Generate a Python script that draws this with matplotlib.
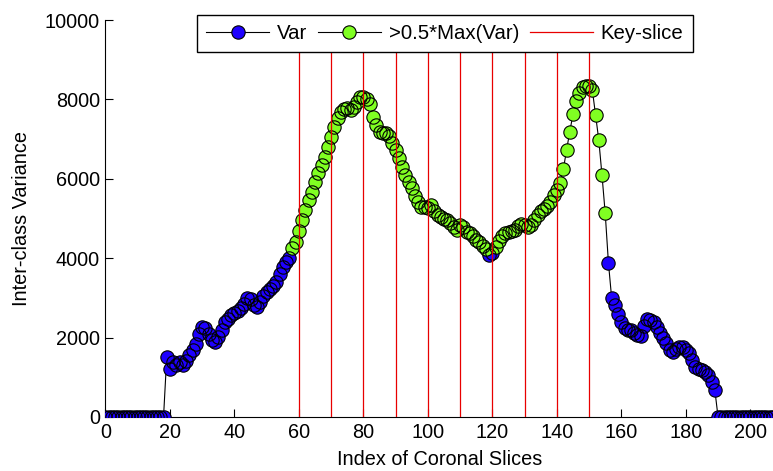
import numpy as np
import matplotlib
matplotlib.use("Agg")
import matplotlib.pyplot as plt
from matplotlib.lines import Line2D

plt.rcParams['font.family'] = ['Liberation Sans', 'DejaVu Sans']

# ---- data ----
lead_zeros = [0] * 19                       # slices 0..18
var_mid = [                                  # slices 19..189
    1520, 1200, 1380, 1320, 1380, 1300, 1420, 1560, 1700, 1850,
    2100, 2270, 2250, 2080, 1950, 1880, 2020, 2200, 2400, 2480,
    2570, 2620, 2680, 2740, 2850, 2990, 2960, 2830, 2780, 2900,
    3050, 3160, 3230, 3300, 3400, 3600, 3780, 3910, 4000, 4250,
    4420, 4680, 4960, 5220, 5460, 5680, 5930, 6140, 6350, 6560,
    6810, 7060, 7310, 7520, 7690, 7760, 7780, 7730, 7820, 7940,
    8070, 8070, 8000, 7880, 7560, 7350, 7190, 7150, 7150, 7080,
    6900, 6720, 6520, 6300, 6100, 5930, 5760, 5560, 5420, 5300,
    5280, 5260, 5330, 5200, 5100, 5050, 4990, 4950, 4880, 4790,
    4720, 4830, 4790, 4670, 4640, 4560, 4470, 4400, 4300, 4230,
    4090, 4130, 4290, 4440, 4570, 4640, 4670, 4680, 4700, 4800,
    4860, 4840, 4790, 4830, 4960, 5100, 5190, 5230, 5320, 5420,
    5580, 5720, 5890, 6240, 6720, 7190, 7620, 7960, 8170, 8320,
    8350, 8340, 8240, 7600, 6980, 6090, 5130, 3880, 2990, 2820,
    2600, 2400, 2230, 2180, 2190, 2120, 2065, 2030, 2300, 2460,
    2440, 2400, 2270, 2110, 1980, 1860, 1700, 1640, 1720, 1770,
    1770, 1690, 1600, 1440, 1270, 1200, 1180, 1140, 1060, 870,
    680,
]
trail_zeros = [0] * 18                      # slices 190..207
key_slices = [60, 70, 80, 90, 100, 110, 120, 130, 140, 150]
x_ticks = [0, 20, 40, 60, 80, 100, 120, 140, 160, 180, 200]
y_ticks = [0, 2000, 4000, 6000, 8000, 10000]
legend_labels = ['Var', '>0.5*Max(Var)', 'Key-slice']

var = np.array(lead_zeros + var_mid + trail_zeros, dtype=float)
slices = np.arange(len(var))
thr = 0.5 * var.max()
hi = var > thr

BLUE = '#1E00FF'
GREEN = '#80FF22'
RED = '#E80000'
MS = 9.6
FS = 14.3

W, H = 773, 471
fig = plt.figure(figsize=(W / 100, H / 100), dpi=100)
left_px, right_px, bottom_px, top_px = 105.5, 773, 417, 20
ax = fig.add_axes([left_px / W, 1 - bottom_px / H,
                   (right_px - left_px) / W, (bottom_px - top_px) / H])

ax.plot(slices, var, color='k', lw=0.8, zorder=2)
for mask, col in ((~hi, BLUE), (hi, GREEN)):
    ax.plot(slices[mask], var[mask], 'o', ms=MS, mfc=col, mec='none', zorder=3)
    ax.plot(slices[mask], var[mask], 'o', ms=MS, mfc='none', mec='k', mew=0.8, zorder=4)

for k in key_slices:
    ax.axvline(k, color=RED, lw=0.9, zorder=5)

ax.set_xlim(0, (right_px - left_px) / 3.224)
ax.set_ylim(0, 10000)
ax.set_xticks(x_ticks)
ax.set_yticks(y_ticks)
ax.tick_params(direction='in', length=6, width=0.8, labelsize=FS, pad=4)
for s in ('top', 'right'):
    ax.spines[s].set_visible(False)
for s in ('left', 'bottom'):
    ax.spines[s].set_linewidth(0.8)

ax.set_xlabel('Index of Coronal Slices', fontsize=FS)
ax.set_ylabel('Inter-class Variance', fontsize=FS)
ax.xaxis.set_label_coords((440 - left_px) / (right_px - left_px),
                          -(450 - bottom_px) / (bottom_px - top_px))
ax.yaxis.set_label_coords(-(left_px - 31) / (right_px - left_px), 0.5)

handles = [
    Line2D([], [], color='k', lw=0.8, marker='o', ms=MS, mfc=BLUE, mec='k', mew=0.8),
    Line2D([], [], color='k', lw=0.8, marker='o', ms=MS, mfc=GREEN, mec='k', mew=0.8),
    Line2D([], [], color=RED, lw=0.9),
]
leg = fig.legend(handles, legend_labels, loc='upper center', ncol=3,
                 bbox_to_anchor=(445 / W, 1 - 15 / H), bbox_transform=fig.transFigure,
                 fontsize=FS + 0.4, frameon=True, fancybox=False, framealpha=1,
                 edgecolor='k', handlelength=3.05, columnspacing=0.55,
                 handletextpad=0.4, borderpad=0.45, borderaxespad=0)
leg.get_frame().set_linewidth(1.0)
leg.set_zorder(10)

fig.savefig('out.png', dpi=100)
